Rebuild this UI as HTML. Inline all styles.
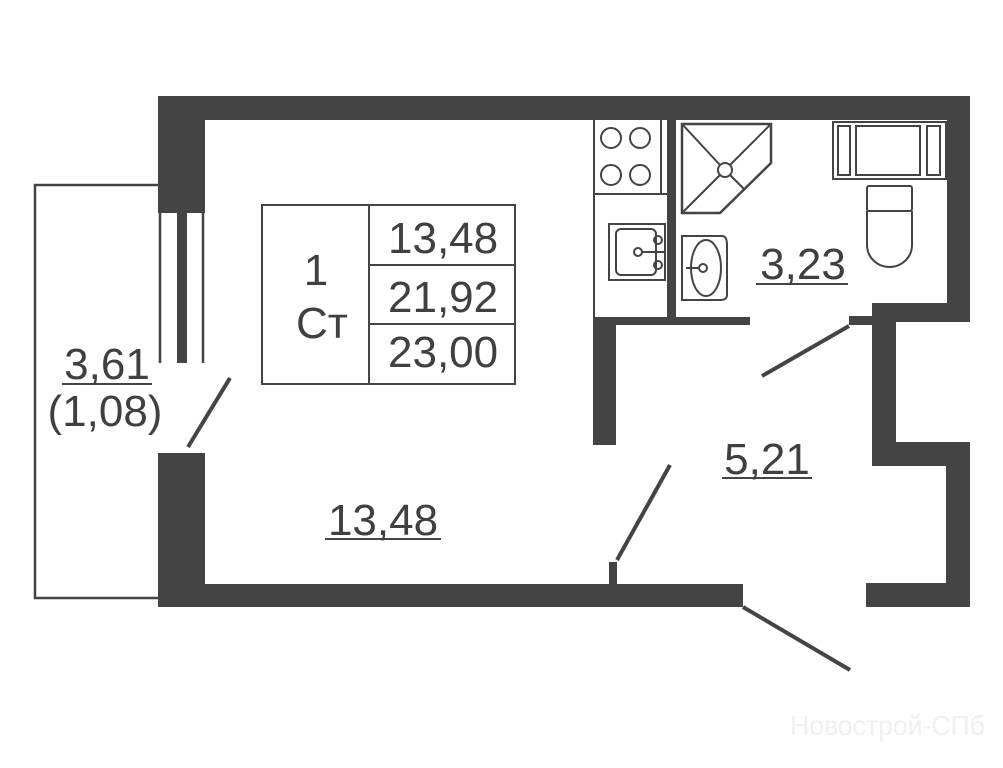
<!DOCTYPE html>
<html><head><meta charset="utf-8"><style>
html,body{margin:0;padding:0;background:#fff;}
svg{display:block;}
text{font-family:"Liberation Sans",sans-serif;fill:#404040;}
</style></head><body>
<svg width="1003" height="768" viewBox="0 0 1003 768" xmlns="http://www.w3.org/2000/svg">
<g fill="#444">
<rect x="158" y="96" width="812" height="24"/>
<rect x="158" y="96" width="47" height="117"/>
<rect x="158" y="453" width="47" height="154"/>
<rect x="158" y="584" width="585" height="23"/>
<rect x="866" y="583" width="104" height="24"/>
<rect x="946" y="442" width="24" height="165"/>
<rect x="872" y="442" width="98" height="24"/>
<rect x="872" y="303" width="24" height="163"/>
<rect x="872" y="303" width="98" height="19"/>
<rect x="947" y="96" width="23" height="226"/>
<rect x="849" y="316" width="25" height="9"/>
<rect x="667" y="120" width="9" height="202"/>
<rect x="593" y="317" width="157" height="8"/>
<rect x="593" y="317" width="23" height="128"/>
<rect x="609" y="562" width="8" height="24"/>
<rect x="177" y="213" width="10" height="150"/>
</g>
<g stroke="#444" fill="none" stroke-width="2.5">
<line x1="160" y1="213" x2="160" y2="363"/>
<line x1="203" y1="213" x2="203" y2="363"/>
<polyline points="158,185 35,185 35,598 158,598"/>
<line x1="230" y1="378" x2="188" y2="447" stroke-width="4"/>
<line x1="670" y1="465" x2="617" y2="560" stroke-width="4"/>
<line x1="849" y1="326" x2="762" y2="376" stroke-width="4"/>
<line x1="743" y1="607" x2="850" y2="670" stroke-width="4"/>
<line x1="594" y1="120" x2="594" y2="318" stroke-width="2"/>
<line x1="594" y1="194" x2="667" y2="194" stroke-width="2"/>
<line x1="661" y1="120" x2="661" y2="194" stroke-width="2"/>
<circle cx="611" cy="138" r="10" stroke-width="2"/>
<circle cx="640" cy="138" r="10" stroke-width="2"/>
<circle cx="611" cy="175" r="10" stroke-width="2"/>
<circle cx="640" cy="175" r="10" stroke-width="2"/>
<rect x="609" y="224" width="56" height="56" stroke-width="2"/>
<rect x="616" y="229" width="40" height="46" rx="5" stroke-width="2"/>
<circle cx="658" cy="240" r="4" stroke-width="2"/>
<circle cx="658" cy="265" r="4" stroke-width="2"/>
<circle cx="638" cy="252" r="4" stroke-width="2"/>
<line x1="642" y1="252" x2="664" y2="252" stroke-width="2"/>
<polygon points="682,124 771,124 771,163 720,213 682,213" stroke-width="2.5"/>
<circle cx="725" cy="170" r="7" stroke-width="2"/>
<line x1="682" y1="124" x2="720" y2="165" stroke-width="2"/>
<line x1="730" y1="175" x2="745" y2="190" stroke-width="2"/>
<line x1="771" y1="124" x2="730" y2="165" stroke-width="2"/>
<line x1="720" y1="175" x2="682" y2="213" stroke-width="2"/>
<path d="M682,236 L722,236 Q727,236 727,245 L727,295 Q727,300 720,300 L682,300 Z" stroke-width="2"/>
<ellipse cx="706" cy="268" rx="15" ry="28" stroke-width="2"/>
<circle cx="703" cy="268" r="4" stroke-width="2"/>
<line x1="686" y1="268" x2="699" y2="268" stroke-width="2"/>
<rect x="833" y="122" width="113" height="57" stroke-width="2"/>
<rect x="838" y="126" width="12" height="49" stroke-width="2"/>
<rect x="856" y="126" width="64" height="49" stroke-width="2"/>
<rect x="927" y="126" width="13" height="49" stroke-width="2"/>
<rect x="867" y="186" width="45" height="25" rx="2" stroke-width="2"/>
<path d="M867,211 L867,245 A22.5,22 0 0 0 912,245 L912,211" stroke-width="2"/>
<rect x="262" y="205" width="253" height="179" stroke-width="2"/>
<line x1="369" y1="205" x2="369" y2="384" stroke-width="2"/>
<line x1="369" y1="265" x2="515" y2="265" stroke-width="2"/>
<line x1="369" y1="324" x2="515" y2="324" stroke-width="2"/>
<line x1="62" y1="384" x2="152" y2="384" stroke-width="2"/>
<line x1="756" y1="284" x2="848" y2="284" stroke-width="2"/>
<line x1="722" y1="478" x2="812" y2="478" stroke-width="2"/>
<line x1="325" y1="539" x2="441" y2="539" stroke-width="2"/>
</g>
<text x="388" y="253" font-size="44">13,48</text>
<text x="388" y="312" font-size="44">21,92</text>
<text x="388" y="367" font-size="44">23,00</text>
<text x="316" y="285" font-size="44" text-anchor="middle">1</text>
<text x="322" y="338" font-size="44" text-anchor="middle">Ст</text>
<text x="107" y="379" font-size="44" text-anchor="middle">3,61</text>
<text x="105" y="426" font-size="44" text-anchor="middle">(1,08)</text>
<text x="803" y="279" font-size="44" text-anchor="middle">3,23</text>
<text x="767" y="474" font-size="44" text-anchor="middle">5,21</text>
<text x="383" y="535" font-size="44" text-anchor="middle">13,48</text>
<text x="790" y="735" font-size="28" textLength="195" lengthAdjust="spacingAndGlyphs" style="fill:#f0f0f0">Новострой-СПб</text>
</svg>
</body></html>
